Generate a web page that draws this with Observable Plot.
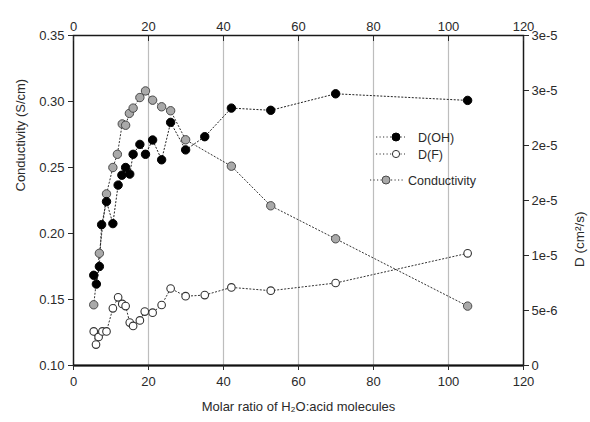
<!DOCTYPE html>
<html>
<head>
<meta charset="utf-8">
<script src="https://cdn.jsdelivr.net/npm/d3@7"></script>
<script src="https://cdn.jsdelivr.net/npm/@observablehq/plot@0.6"></script>
<style>
  html, body { margin: 0; padding: 0; background: white; }
  #wrap { position: relative; width: 590px; height: 422px; }
  #legend { position: absolute; left: 0; top: 0; pointer-events: none; }
</style>
</head>
<body>
<div id="wrap"></div>
<script>
// ---- tick values and labels ----
const xTicks = [0, 20, 40, 60, 80, 100, 120];
const gridTicks = [20, 40, 60, 80, 100];
const condTicks = [0.10, 0.15, 0.20, 0.25, 0.30, 0.35];
const condLabels = ["0.10", "0.15", "0.20", "0.25", "0.30", "0.35"];
const dTicks = [0, 5e-6, 1e-5, 1.5e-5, 2e-5, 2.5e-5, 3e-5];
const dLabels = ["0", "5e-6", "1e-5", "2e-5", "2e-5", "3e-5", "3e-5"];

// ---- series: Conductivity (left axis) ----
const condRatio = [5.4, 6.9, 8.8, 10.5, 11.7, 13.0, 13.9, 14.9, 15.9, 17.7, 19.2, 21.1, 23.5, 25.9, 29.9, 42.1, 52.6, 69.9, 105.1];
const condValue = [0.146, 0.185, 0.230, 0.250, 0.260, 0.283, 0.282, 0.291, 0.295, 0.303, 0.308, 0.301, 0.296, 0.293, 0.271, 0.251, 0.221, 0.196, 0.145];

// ---- series: D(OH) (right axis) ----
const ohRatio = [5.4, 6.1, 6.9, 7.5, 8.8, 10.5, 11.9, 12.9, 13.9, 15.0, 15.9, 17.7, 19.2, 21.1, 23.5, 25.9, 29.9, 35.0, 42.1, 52.6, 69.9, 105.1];
const ohValue = [8.2e-6, 7.4e-6, 9.0e-6, 1.28e-5, 1.49e-5, 1.29e-5, 1.64e-5, 1.73e-5, 1.80e-5, 1.74e-5, 1.92e-5, 2.01e-5, 1.92e-5, 2.05e-5, 1.87e-5, 2.21e-5, 1.96e-5, 2.08e-5, 2.34e-5, 2.32e-5, 2.47e-5, 2.41e-5];

// ---- series: D(F) (right axis) ----
const fRatio = [5.4, 6.0, 6.7, 7.7, 8.8, 10.5, 11.9, 13.0, 13.9, 15.0, 15.9, 17.7, 19.0, 21.1, 23.5, 25.9, 29.9, 35.0, 42.1, 52.6, 69.9, 105.1];
const fValue = [3.1e-6, 1.9e-6, 2.6e-6, 3.1e-6, 3.1e-6, 5.2e-6, 6.2e-6, 5.6e-6, 5.4e-6, 3.9e-6, 3.6e-6, 4.1e-6, 4.9e-6, 4.8e-6, 5.5e-6, 7.0e-6, 6.3e-6, 6.4e-6, 7.1e-6, 6.8e-6, 7.5e-6, 1.02e-5];

// ---- dual axis mapping: D domain -> conductivity scale ----
const condDomain = [0.10, 0.35];
const dDomain = [0, 3e-5];
const dToY = d => condDomain[0] + (d - dDomain[0]) / (dDomain[1] - dDomain[0]) * (condDomain[1] - condDomain[0]);

const condData = condRatio.map((r, i) => ({r, v: condValue[i]}));
const ohData = ohRatio.map((r, i) => ({r, v: dToY(ohValue[i])}));
const fData = fRatio.map((r, i) => ({r, v: dToY(fValue[i])}));

const condFmt = d => { const i = condTicks.findIndex(t => Math.abs(t - d) < 1e-9); return i >= 0 ? condLabels[i] : ""; };
const dTickY = dTicks.map(dToY);
const dFmt = d => { const i = dTickY.findIndex(t => Math.abs(t - d) < 1e-9); return i >= 0 ? dLabels[i] : ""; };

const font = "'Liberation Sans', Arial, Helvetica, sans-serif";
const dash = "1.2,2.3";

const chart = Plot.plot({
  width: 590,
  height: 422,
  marginLeft: 73,
  marginRight: 67,
  marginTop: 35,
  marginBottom: 57,
  style: {fontFamily: font, fontSize: "13px", color: "#2a2a2a", background: "white"},
  x: {domain: [0, 120]},
  y: {domain: condDomain},
  marks: [
    Plot.gridX(gridTicks, {stroke: "#bdbdbd", strokeOpacity: 1, strokeWidth: 1.2}),
    Plot.frame({stroke: "#1a1a1a", strokeWidth: 1.5}),
    Plot.ruleY([condDomain[0]], {stroke: "#111", strokeWidth: 2.2}),
    Plot.axisX({anchor: "bottom", ticks: xTicks, tickSize: 5, tickPadding: 6, label: null, tickFormat: d => String(d)}),
    Plot.axisX({anchor: "top", ticks: xTicks, tickSize: 0, tickPadding: 5, label: null, tickFormat: d => String(d)}),
    Plot.axisX({anchor: "top", ticks: xTicks, tickSize: -5, tickPadding: 0, label: null, tickFormat: () => ""}),
    Plot.axisY({anchor: "left", ticks: condTicks, tickSize: 5, tickPadding: 4, label: null, tickFormat: condFmt}),
    Plot.axisY({anchor: "right", ticks: dTickY, tickSize: 5, tickPadding: 3, label: null, tickFormat: dFmt}),
    // series
    Plot.line(condData, {x: "r", y: "v", stroke: "#333", strokeWidth: 1, strokeDasharray: dash}),
    Plot.line(fData, {x: "r", y: "v", stroke: "#333", strokeWidth: 1, strokeDasharray: dash}),
    Plot.line(ohData, {x: "r", y: "v", stroke: "#222", strokeWidth: 1, strokeDasharray: dash}),
    Plot.dot(condData, {x: "r", y: "v", r: 4.2, fill: "#a9a9a9", stroke: "#4a4a4a", strokeWidth: 1}),
    Plot.dot(fData, {x: "r", y: "v", r: 3.8, fill: "white", stroke: "#333", strokeWidth: 1.1}),
    Plot.dot(ohData, {x: "r", y: "v", r: 4.2, fill: "#000", stroke: "#000", strokeWidth: 1}),
    // axis titles
    Plot.text(["Molar ratio of H₂O:acid molecules"], {frameAnchor: "bottom", dy: 45, fontSize: 13, fill: "#2a2a2a"}),
    Plot.text(["Conductivity (S/cm)"], {frameAnchor: "left", rotate: -90, dx: -53, dy: -9, fontSize: 13, fill: "#2a2a2a"}),
    Plot.text(["D (cm²/s)"], {frameAnchor: "right", rotate: -90, dx: 56, dy: 11, fontSize: 13.5, fill: "#2a2a2a"})
  ]
});

const wrap = document.getElementById("wrap");
wrap.appendChild(chart);

// ---- legend (overlay) ----
const legendItems = [
  {label: "D(OH)", fill: "#000", stroke: "#000", r: 4},
  {label: "D(F)", fill: "white", stroke: "#333", r: 3.6},
  {label: "Conductivity", fill: "#a9a9a9", stroke: "#4a4a4a", r: 4}
];
const legendLayout = [
  {y: 137, x1: 376, x2: 405, cx: 396, tx: 418},
  {y: 154, x1: 376, x2: 405, cx: 396, tx: 418},
  {y: 180, x1: 370, x2: 405, cx: 386, tx: 408}
];
const leg = d3.create("svg").attr("id", "legend").attr("width", 590).attr("height", 422);
legendItems.forEach((it, i) => {
  const L = legendLayout[i];
  leg.append("line").attr("x1", L.x1).attr("x2", L.x2).attr("y1", L.y).attr("y2", L.y)
    .attr("stroke", "#333").attr("stroke-width", 1).attr("stroke-dasharray", dash);
  leg.append("circle").attr("cx", L.cx).attr("cy", L.y).attr("r", it.r)
    .attr("fill", it.fill).attr("stroke", it.stroke).attr("stroke-width", 1);
  leg.append("text").attr("x", L.tx).attr("y", L.y + 4.5).text(it.label)
    .attr("font-family", font).attr("font-size", 12.5).attr("fill", "#2a2a2a");
});
wrap.appendChild(leg.node());
</script>
</body>
</html>
